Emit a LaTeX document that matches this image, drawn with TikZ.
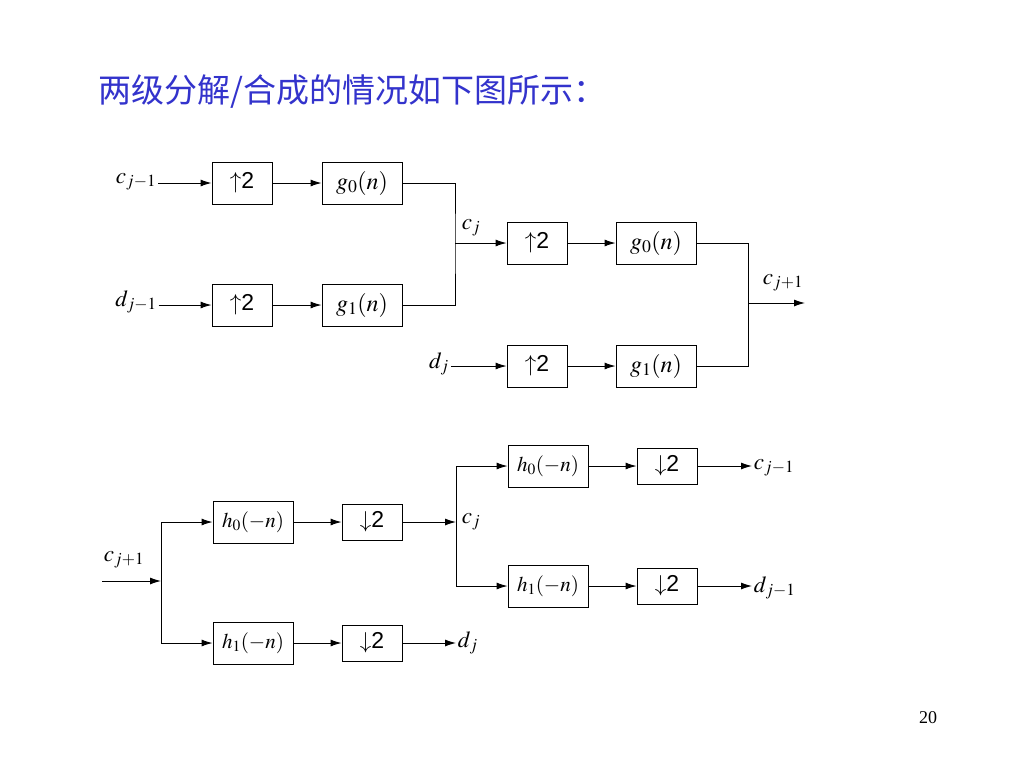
\documentclass[tikz,border=0pt]{standalone}
\usepackage{mathptmx}
\usepackage{fontspec}
\setmainfont{Liberation Serif}
\newfontfamily\cjk{Noto Sans CJK SC}
\newfontfamily\arial{Liberation Sans}
\usetikzlibrary{arrows.meta}
\definecolor{titleblue}{RGB}{51,51,204}

\tikzset{
    blk/.style={draw, line width=0.9pt, inner sep=0pt, minimum height=42pt},
    upbox/.style={blk, minimum width=60pt, font=\arial\fontsize{23}{26}\selectfont},
    dnbox/.style={blk, minimum width=60pt, minimum height=36pt, font=\arial\fontsize{23}{26}\selectfont},
    fbox/.style={blk, minimum width=80pt, font=\fontsize{24}{28}\selectfont},
    hbox/.style={blk, minimum width=80pt, font=\fontsize{21}{25}\selectfont},
    lbl/.style={inner sep=1.5pt, font=\fontsize{23}{27}\selectfont},
}
\newcommand{\upsmp}{$\uparrow$2}
\newcommand{\dnsmp}{$\downarrow$2}

\begin{document}
\begin{tikzpicture}[x=1pt, y=-1pt, >={Latex[length=11pt,width=7pt]}, line width=0.9pt]
    \useasboundingbox (0,0) rectangle (1024,768);

    \node (T) at (95, 92) [anchor=west, text=titleblue, font=\cjk\fontsize{33}{40}\selectfont] {两级分解/合成的情况如下图所示：};
    \node (PG) at (928, 718) [font=\fontsize{18}{20}\selectfont] {20};

    %-----

    \node (CA) at (136, 182) [lbl] {$c_{j-1}$};
    \node (DA) at (136, 302) [lbl] {$d_{j-1}$};
    \node (UA) at (242, 183) [upbox] {\upsmp};
    \node (GA) at (362, 183) [fbox] {$g_0(n)$};
    \node (UB) at (242, 305) [upbox] {\upsmp};
    \node (GB) at (362, 305) [fbox] {$g_1(n)$};
    \coordinate (J1) at (455, 243);
    \node (CJ) at (471, 228) [lbl] {$c_j$};

    \draw (CA.east |- UA.west) edge[->] (UA.west);
    \draw (UA.east) edge[->] (GA.west);
    \draw (DA.east |- UB.west) edge[->] (UB.west);
    \draw (UB.east) edge[->] (GB.west);
    \draw (GA.east) -| (J1) |- (GB.east);

    %-----

    \node (UC) at (537, 243) [upbox] {\upsmp};
    \node (GC) at (656, 243) [fbox] {$g_0(n)$};
    \node (DJ) at (439, 364) [lbl] {$d_j$};
    \node (UD) at (537, 366) [upbox] {\upsmp};
    \node (GD) at (656, 366) [fbox] {$g_1(n)$};
    \coordinate (J2) at (748, 303);
    \coordinate (OUT) at (805, 303);
    \node (CC) at (783, 283) [lbl] {$c_{j+1}$};

    \draw (J1) edge[->] (UC.west);
    \draw (UC.east) edge[->] (GC.west);
    \draw (DJ.east |- UD.west) edge[->] (UD.west);
    \draw (UD.east) edge[->] (GD.west);
    \draw (GC.east) -| (J2) |- (GD.east);
    \draw (J2) edge[->] (OUT);

    %-----

    \coordinate (IN) at (102, 581);
    \coordinate (J3) at (161, 581);
    \node (CD) at (124, 560) [lbl] {$c_{j+1}$};
    \node (HA) at (253, 522) [hbox] {$h_0(-n)$};
    \node (SA) at (372, 522) [dnbox] {\dnsmp};
    \node (HB) at (253, 643) [hbox] {$h_1(-n)$};
    \node (SB) at (372, 643) [dnbox] {\dnsmp};
    \coordinate (J4) at (456, 522);
    \node (CE) at (460, 522) [lbl, anchor=west] {$c_j$};
    \node (DK) at (456, 643) [lbl, anchor=west] {$d_j$};

    \draw (IN) edge[->] (J3);
    \draw[->] (J3) |- (HA.west);
    \draw[->] (J3) |- (HB.west);
    \draw (HA.east) edge[->] (SA.west);
    \draw (HB.east) edge[->] (SB.west);
    \draw (SA.east) edge[->] (J4);
    \draw (SB.east) edge[->] (SB.east -| DK.west);

    %-----

    \node (HC) at (548, 466) [hbox] {$h_0(-n)$};
    \node (SC) at (667, 466) [dnbox] {\dnsmp};
    \node (HD) at (548, 586) [hbox] {$h_1(-n)$};
    \node (SD) at (667, 586) [dnbox] {\dnsmp};
    \node (CF) at (752, 468) [lbl, anchor=west] {$c_{j-1}$};
    \node (DF) at (752, 588) [lbl, anchor=west] {$d_{j-1}$};

    \draw[->] (J4) |- (HC.west);
    \draw[->] (J4) |- (HD.west);
    \draw (HC.east) edge[->] (SC.west);
    \draw (HD.east) edge[->] (SD.west);
    \draw (SC.east) edge[->] (SC.east -| CF.west);
    \draw (SD.east) edge[->] (SD.east -| DF.west);
\end{tikzpicture}
\end{document}
